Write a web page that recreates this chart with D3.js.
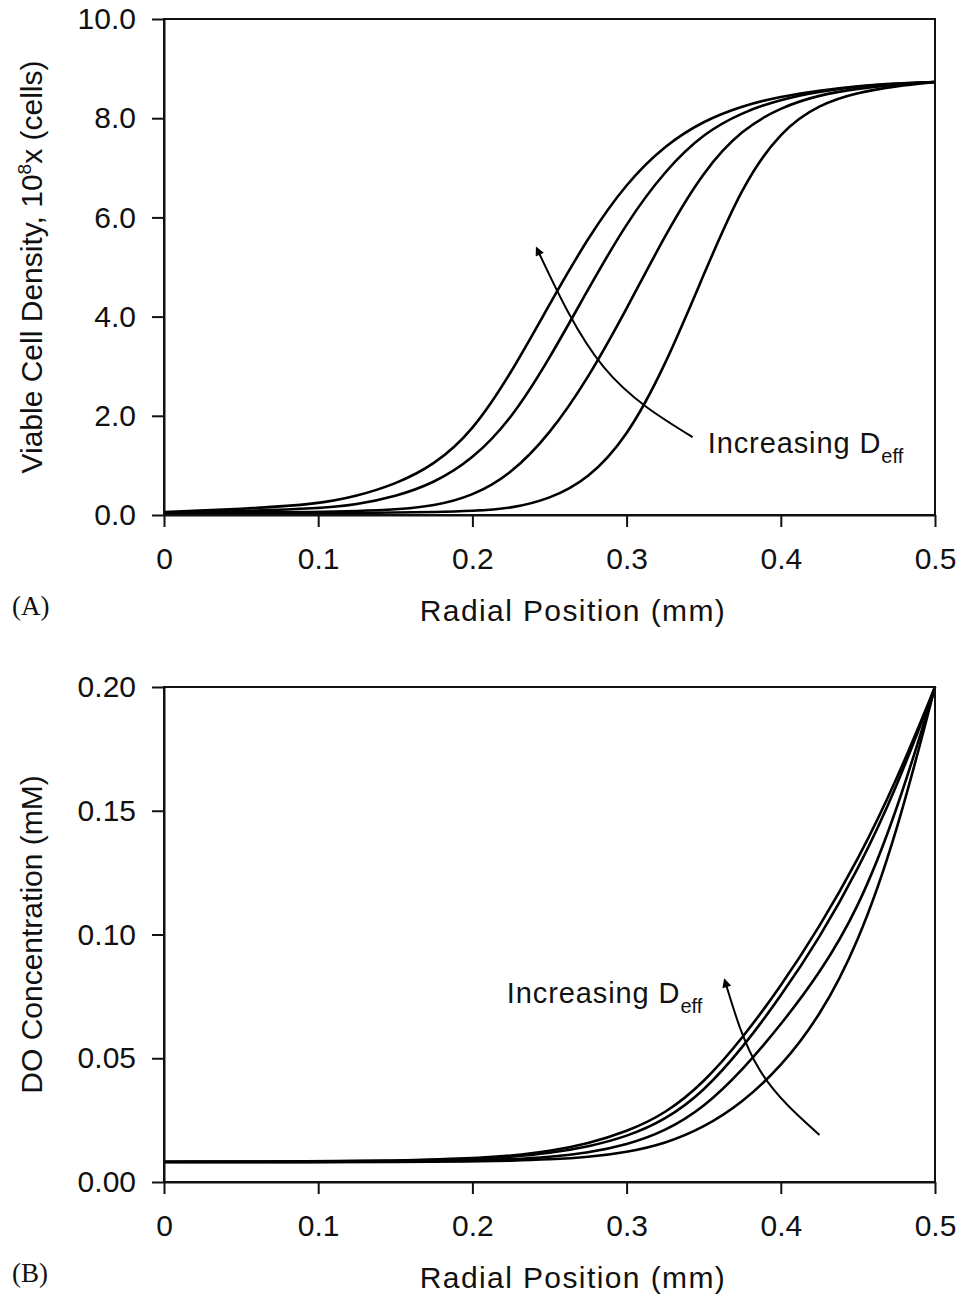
<!DOCTYPE html>
<html lang="en">
<head>
    <meta charset="UTF-8">
    <title>Viable cell density and DO concentration vs radial position</title>
    <script src="https://d3js.org/d3.v7.min.js"></script>
    <style>
        body { margin: 0; background: #fff; }
        svg { display: block; }
        text { font-family: "Liberation Sans", Arial, sans-serif; fill: #111; }
        .panel-tag { font-family: "Liberation Serif", "Times New Roman", serif; }
    </style>
</head>
<body>
<script>
    // ---- data ----
    // Panel A: viable cell density (10^8 cells) vs radial position (mm)
    const radiusA = [0, 0.05, 0.1, 0.125, 0.15, 0.175, 0.2, 0.225, 0.25, 0.275, 0.3, 0.325, 0.35, 0.375, 0.4, 0.425, 0.45, 0.475, 0.5];
    const cellsD1 = [0.06, 0.12, 0.22, 0.38, 0.62, 1.00, 1.68, 2.85, 4.25, 5.60, 6.70, 7.46, 7.95, 8.25, 8.44, 8.56, 8.65, 8.70, 8.73];
    const cellsD2 = [0.05, 0.08, 0.13, 0.21, 0.37, 0.64, 1.12, 1.92, 3.15, 4.55, 5.90, 6.95, 7.70, 8.12, 8.38, 8.54, 8.64, 8.70, 8.73];
    const cellsD3 = [0.04, 0.05, 0.06, 0.08, 0.11, 0.18, 0.38, 0.82, 1.62, 2.75, 4.15, 5.65, 6.95, 7.78, 8.22, 8.47, 8.60, 8.68, 8.73];
    const cellsD4 = [0.03, 0.03, 0.04, 0.04, 0.05, 0.06, 0.08, 0.13, 0.32, 0.72, 1.55, 3.00, 4.85, 6.65, 7.75, 8.28, 8.52, 8.65, 8.73];

    // Panel B: dissolved oxygen (mM) vs radial position (mm)
    const radiusB = [0, 0.1, 0.15, 0.2, 0.225, 0.25, 0.275, 0.3, 0.325, 0.35, 0.375, 0.4, 0.425, 0.45, 0.475, 0.5];
    const doD1 = [0.0082, 0.0083, 0.0086, 0.0095, 0.0106, 0.0124, 0.0155, 0.0203, 0.0275, 0.0400, 0.0580, 0.0790, 0.1030, 0.1300, 0.1620, 0.2000];
    const doD2 = [0.0082, 0.0082, 0.0085, 0.0092, 0.0101, 0.0116, 0.0142, 0.0183, 0.0250, 0.0365, 0.0540, 0.0750, 0.0985, 0.1260, 0.1590, 0.2000];
    const doD3 = [0.0081, 0.0081, 0.0083, 0.0087, 0.0092, 0.0101, 0.0118, 0.0150, 0.0205, 0.0300, 0.0450, 0.0635, 0.0840, 0.1100, 0.1490, 0.2000];
    const doD4 = [0.0080, 0.0080, 0.0081, 0.0083, 0.0086, 0.0091, 0.0100, 0.0120, 0.0155, 0.0220, 0.0320, 0.0465, 0.0665, 0.0960, 0.1400, 0.2000];

    // tick values
    const xTicks = [0, 0.1, 0.2, 0.3, 0.4, 0.5];
    const yTicksA = [0, 2, 4, 6, 8, 10];
    const yTicksB = [0, 0.05, 0.10, 0.15, 0.20];

    // annotation arrows (tail -> head) in data units
    const arrowA = [[0.3428, 1.57], [0.2852, 2.98], [0.2417, 5.38]];
    const arrowB = [[0.4251, 0.019], [0.3863, 0.0453], [0.3636, 0.0816]];
    const labelA = [0.3526, 1.25];
    const labelB = [0.2223, 0.0723];

    const width = 967, height = 1299;
    const svg = d3.select("body").append("svg")
        .attr("width", width)
        .attr("height", height);

    svg.append("defs").append("marker")
        .attr("id", "head")
        .attr("viewBox", "0 0 10 10")
        .attr("refX", 8).attr("refY", 5)
        .attr("markerWidth", 11).attr("markerHeight", 9)
        .attr("markerUnits", "userSpaceOnUse")
        .attr("orient", "auto")
        .append("path")
        .attr("d", "M0,0L10,5L0,10z")
        .attr("fill", "#000");

    // draws one panel: frame, axes, curves, arrow and label
    function drawPanel(opt) {
        const x = d3.scaleLinear().domain([0, 0.5]).range([164, 935]);
        const y = d3.scaleLinear().domain(opt.yDomain).range([opt.bottom, opt.top]);
        const g = svg.append("g");

        // curves
        const line = d3.line()
            .x(d => x(d[0]))
            .y(d => y(d[1]))
            .curve(d3.curveBasis);
        opt.series.forEach(vals => {
            g.append("path")
                .datum(opt.radius.map((r, i) => [r, vals[i]]))
                .attr("fill", "none")
                .attr("stroke", "#000")
                .attr("stroke-width", 2.6)
                .attr("d", line);
        });

        // frame
        g.append("rect")
            .attr("x", x(0)).attr("y", y(opt.yDomain[1]))
            .attr("width", x(0.5) - x(0))
            .attr("height", y(opt.yDomain[0]) - y(opt.yDomain[1]))
            .attr("fill", "none")
            .attr("stroke", "#111")
            .attr("stroke-width", 2);

        // axes
        const xAxis = g.append("g")
            .attr("transform", `translate(0,${opt.bottom})`)
            .call(d3.axisBottom(x).tickValues(xTicks).tickSize(12).tickSizeOuter(0).tickPadding(21)
                .tickFormat(d => d === 0 ? "0" : d3.format(".1f")(d)));
        const yAxis = g.append("g")
            .attr("transform", "translate(164,0)")
            .call(d3.axisLeft(y).tickValues(opt.yTicks).tickSize(12).tickSizeOuter(0).tickPadding(16)
                .tickFormat(d3.format(opt.yFormat)));
        [xAxis, yAxis].forEach(a => {
            a.selectAll("path, line").attr("stroke", "#111").attr("stroke-width", 2);
            a.selectAll("text").style("font-size", "30px").attr("fill", "#111");
        });

        // axis titles
        g.append("text")
            .attr("x", 573).attr("y", opt.bottom + 106)
            .attr("text-anchor", "middle")
            .style("font-size", "30px")
            .style("letter-spacing", "1.4px")
            .text("Radial Position (mm)");

        const yt = g.append("text")
            .attr("transform", `translate(42,${(opt.top + opt.bottom) / 2}) rotate(-90)`)
            .attr("text-anchor", "middle")
            .style("font-size", "30px");
        opt.yTitle(yt);

        g.append("text")
            .attr("class", "panel-tag")
            .attr("x", 12).attr("y", opt.bottom + 100)
            .style("font-size", "27px")
            .text(opt.tag);

        // arrow annotation
        g.append("path")
            .datum(opt.arrow)
            .attr("fill", "none")
            .attr("stroke", "#000")
            .attr("stroke-width", 2)
            .attr("marker-end", "url(#head)")
            .attr("d", d3.line().x(d => x(d[0])).y(d => y(d[1])).curve(d3.curveNatural));

        const lab = g.append("text")
            .attr("x", x(opt.label[0])).attr("y", y(opt.label[1]))
            .style("font-size", "29px")
            .style("letter-spacing", "0.9px");
        lab.append("tspan").text("Increasing D");
        lab.append("tspan").attr("dy", 10).style("font-size", "20px").style("letter-spacing", "0px").text("eff");
    }

    drawPanel({
        top: 19, bottom: 515,
        yDomain: [0, 10], yTicks: yTicksA, yFormat: ".1f",
        radius: radiusA, series: [cellsD1, cellsD2, cellsD3, cellsD4],
        arrow: arrowA, label: labelA, tag: "(A)",
        yTitle: t => {
            t.append("tspan").text("Viable Cell Density, 10");
            t.append("tspan").attr("dy", -11).style("font-size", "19px").text("8");
            t.append("tspan").attr("dy", 11).text("x (cells)");
        }
    });

    drawPanel({
        top: 687, bottom: 1182,
        yDomain: [0, 0.2], yTicks: yTicksB, yFormat: ".2f",
        radius: radiusB, series: [doD1, doD2, doD3, doD4],
        arrow: arrowB, label: labelB, tag: "(B)",
        yTitle: t => t.text("DO Concentration (mM)")
    });
</script>
</body>
</html>
